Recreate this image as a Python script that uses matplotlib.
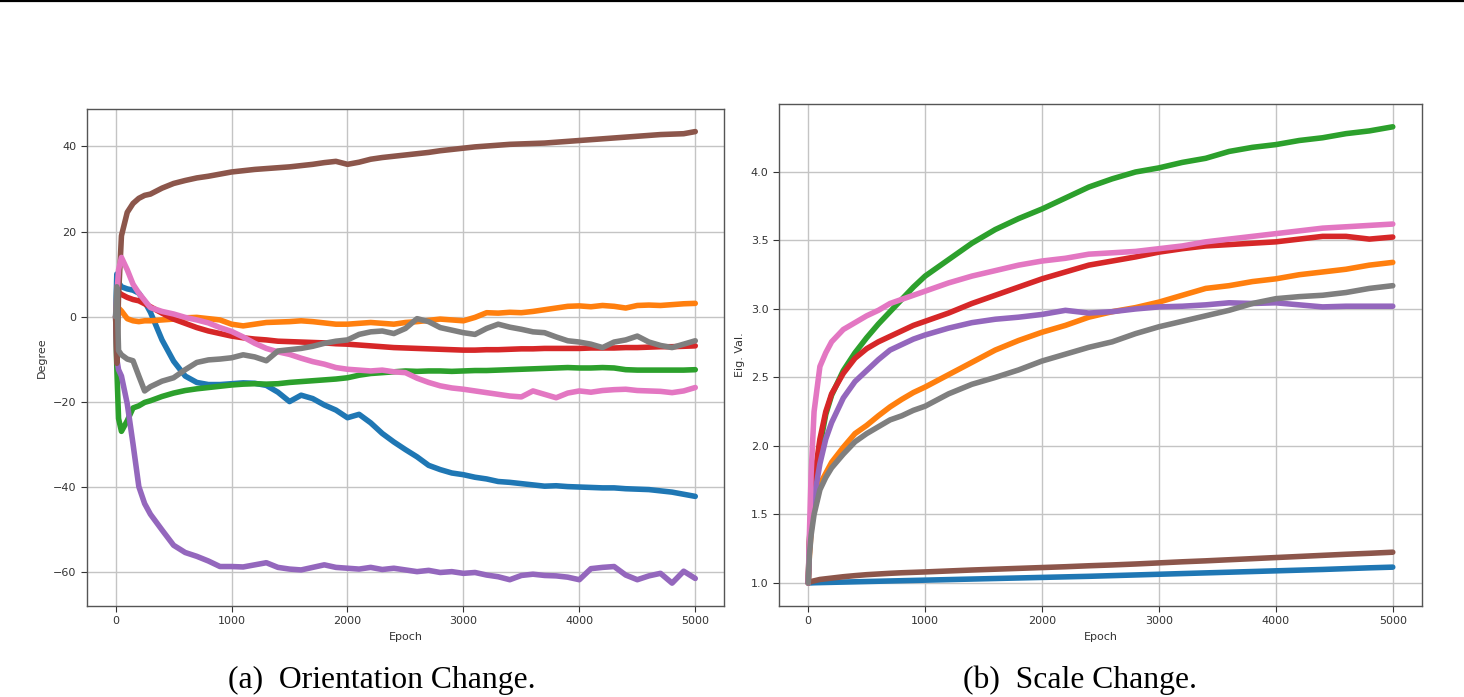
import matplotlib
matplotlib.use("Agg")
import matplotlib.pyplot as plt
from matplotlib.lines import Line2D

# (a) orientation change, degrees
epochs_a = [0, 10, 25, 50, 100, 150, 200, 250, 300] + list(range(400, 5001, 100))

blue_a = [0, 10, 8, 7, 6.5, 6.2, 5.5, 3.5, 1, -5.5, -10.5, -14, -15.5, -16, -16, -15.8,
          -15.6, -15.7, -16.2, -17.8, -20, -18.5, -19.3, -20.8, -22, -23.8, -23, -25, -27.5,
          -29.5, -31.3, -33, -35, -36, -36.8, -37.2, -37.8, -38.2, -38.8, -39, -39.3, -39.6,
          -39.9, -39.8, -40, -40.1, -40.2, -40.3, -40.3, -40.5, -40.6, -40.7, -41, -41.3,
          -41.8, -42.3]
orange_a = [0, -4, 2, 1.3, -0.5, -1, -1.2, -1, -1, -0.8, -0.6, -0.3, -0.2, -0.5, -0.8, -1.8,
            -2.2, -1.8, -1.4, -1.3, -1.2, -1.0, -1.2, -1.5, -1.8, -1.8, -1.6, -1.4, -1.6, -1.8,
            -1.4, -1.2, -0.9, -0.6, -0.8, -1.0, -0.2, 0.9, 0.8, 1.0, 0.9, 1.2, 1.6, 2.0, 2.4,
            2.5, 2.3, 2.6, 2.4, 2.0, 2.6, 2.7, 2.6, 2.8, 3.0, 3.1]
green_a = [0, -12, -24, -27, -24.5, -21.5, -21, -20.2, -19.8, -18.8, -18, -17.4, -17, -16.7,
           -16.4, -16.1, -15.9, -15.8, -15.9, -15.8, -15.5, -15.3, -15.1, -14.9, -14.7, -14.4,
           -13.8, -13.4, -13.2, -13.0, -12.8, -12.9, -12.8, -12.8, -12.9, -12.8, -12.7, -12.7,
           -12.6, -12.5, -12.4, -12.3, -12.2, -12.1, -12.0, -12.1, -12.1, -12.0, -12.1, -12.5,
           -12.6, -12.6, -12.6, -12.6, -12.6, -12.5]
red_a = [0, 3, 5.7, 5.2, 4.5, 4.0, 3.7, 3.0, 2.3, 0.8, -0.6, -1.6, -2.6, -3.4, -4.0, -4.6, -5.0,
         -5.3, -5.5, -5.8, -5.9, -6.0, -6.1, -6.2, -6.4, -6.5, -6.7, -6.9, -7.1, -7.3, -7.4,
         -7.5, -7.6, -7.7, -7.8, -7.9, -7.9, -7.8, -7.8, -7.7, -7.6, -7.6, -7.5, -7.5, -7.5,
         -7.5, -7.4, -7.4, -7.4, -7.3, -7.3, -7.2, -7.1, -7.1, -7.0, -6.9]
purple_a = [0, -10, -12.5, -14, -20.5, -30, -40, -44, -46.5, -50.2, -53.8, -55.5, -56.4, -57.5,
            -58.8, -58.8, -58.9, -58.4, -57.9, -59, -59.4, -59.6, -59.0, -58.4, -59.0, -59.2,
            -59.4, -59.0, -59.5, -59.2, -59.6, -60.0, -59.7, -60.2, -60.0, -60.4, -60.2, -60.8,
            -61.2, -61.9, -60.9, -60.6, -60.9, -61.0, -61.3, -61.9, -59.3, -59.0, -58.8, -60.8,
            -61.9, -61.0, -60.4, -62.7, -59.9, -61.6]
brown_a = [0, -11, 5, 19, 24.5, 26.6, 27.8, 28.5, 28.8, 30.2, 31.3, 32, 32.6, 33, 33.5, 34.0,
           34.3, 34.6, 34.8, 35.0, 35.2, 35.5, 35.8, 36.2, 36.5, 35.8, 36.3, 37.0, 37.4, 37.7,
           38.0, 38.3, 38.6, 39.0, 39.3, 39.6, 39.9, 40.1, 40.3, 40.5, 40.6, 40.7, 40.8, 41.0,
           41.2, 41.4, 41.6, 41.8, 42.0, 42.2, 42.4, 42.6, 42.8, 42.9, 43.0, 43.5]
pink_a = [0, 5, 11, 13.9, 11, 7.6, 5.5, 3.8, 2.1, 1.2, 0.6, -0.2, -0.8, -1.5, -2.6, -3.5, -4.8,
          -6.3, -7.5, -8.3, -8.9, -9.8, -10.6, -11.2, -12.0, -12.4, -12.6, -12.8, -12.6, -13.0,
          -13.2, -14.5, -15.5, -16.3, -16.8, -17.1, -17.5, -17.9, -18.3, -18.7, -18.9, -17.5,
          -18.3, -19.1, -18.0, -17.5, -17.8, -17.4, -17.2, -17.1, -17.4, -17.5, -17.6, -17.9,
          -17.5, -16.7]
gray_a = [0, 7, -8, -9, -10, -10.4, -14, -17.5, -16.5, -15.2, -14.4, -12.5, -10.8, -10.2, -10,
          -9.7, -9.0, -9.5, -10.4, -8.1, -7.8, -7.5, -7.0, -6.3, -5.8, -5.5, -4.2, -3.6, -3.4,
          -4.0, -2.8, -0.5, -1.2, -2.6, -3.2, -3.8, -4.2, -2.8, -1.8, -2.5, -3.0, -3.6, -3.8,
          -4.8, -5.7, -6.0, -6.5, -7.3, -6.0, -5.5, -4.6, -6.0, -6.8, -7.3, -6.5, -5.7]

# (b) scale change, eigenvalues
epochs_b = [0, 10, 25, 50, 100, 150, 200] + list(range(300, 1001, 100)) + list(range(1200, 5001, 200))

blue_b = [1.0, 1.0, 1.0, 1.001, 1.002, 1.003, 1.004, 1.006, 1.008, 1.01, 1.012, 1.014, 1.016,
          1.018, 1.02, 1.024, 1.028, 1.032, 1.036, 1.04, 1.044, 1.048, 1.053, 1.058, 1.063,
          1.068, 1.073, 1.078, 1.083, 1.088, 1.093, 1.098, 1.104, 1.11, 1.115]
orange_b = [1.0, 1.2, 1.38, 1.55, 1.72, 1.8, 1.88, 1.99, 2.09, 2.15, 2.22, 2.285, 2.34, 2.39,
            2.43, 2.52, 2.61, 2.70, 2.77, 2.83, 2.88, 2.94, 2.98, 3.01, 3.05, 3.10, 3.15, 3.17,
            3.20, 3.22, 3.25, 3.27, 3.29, 3.32, 3.34]
green_b = [1.0, 1.3, 1.55, 1.72, 2.0, 2.23, 2.37, 2.55, 2.68, 2.79, 2.89, 2.98, 3.07, 3.16,
           3.24, 3.36, 3.48, 3.58, 3.66, 3.73, 3.81, 3.89, 3.95, 4.0, 4.03, 4.07, 4.10, 4.15,
           4.18, 4.20, 4.23, 4.25, 4.28, 4.30, 4.33]
red_b = [1.0, 1.3, 1.5, 1.75, 2.05, 2.25, 2.38, 2.53, 2.64, 2.71, 2.76, 2.8, 2.84, 2.88, 2.91,
         2.97, 3.04, 3.10, 3.16, 3.22, 3.27, 3.32, 3.35, 3.38, 3.415, 3.44, 3.46, 3.47, 3.48,
         3.49, 3.51, 3.53, 3.53, 3.51, 3.525]
purple_b = [1.0, 1.25, 1.4, 1.62, 1.87, 2.05, 2.17, 2.35, 2.47, 2.55, 2.63, 2.70, 2.74, 2.78,
            2.81, 2.86, 2.90, 2.925, 2.94, 2.96, 2.99, 2.97, 2.98, 3.0, 3.015, 3.02, 3.03,
            3.045, 3.04, 3.045, 3.03, 3.015, 3.02, 3.02, 3.02]
brown_b = [1.0, 1.005, 1.01, 1.015, 1.025, 1.03, 1.035, 1.045, 1.053, 1.06, 1.065, 1.07, 1.074,
           1.077, 1.08, 1.087, 1.094, 1.1, 1.106, 1.112, 1.118, 1.125, 1.131, 1.138, 1.146,
           1.154, 1.161, 1.169, 1.177, 1.185, 1.193, 1.201, 1.209, 1.216, 1.224]
pink_b = [1.0, 1.35, 1.8, 2.25, 2.58, 2.68, 2.76, 2.85, 2.9, 2.95, 2.99, 3.04, 3.07, 3.10, 3.13,
          3.19, 3.24, 3.28, 3.32, 3.35, 3.37, 3.40, 3.41, 3.42, 3.44, 3.46, 3.49, 3.51, 3.53,
          3.55, 3.57, 3.59, 3.60, 3.61, 3.62]
gray_b = [1.0, 1.2, 1.35, 1.5, 1.68, 1.77, 1.84, 1.94, 2.03, 2.09, 2.14, 2.19, 2.22, 2.26, 2.29,
          2.38, 2.45, 2.50, 2.555, 2.62, 2.67, 2.72, 2.76, 2.82, 2.87, 2.91, 2.95, 2.99, 3.04,
          3.075, 3.09, 3.10, 3.12, 3.15, 3.17]

series_a = [blue_a, orange_a, green_a, red_a, purple_a, brown_a, pink_a, gray_a]
series_b = [blue_b, orange_b, green_b, red_b, purple_b, brown_b, pink_b, gray_b]

fig = plt.figure(figsize=(14.64, 6.97), dpi=100, facecolor='w')
ax1 = fig.add_axes([0.0592, 0.131, 0.4355, 0.7126])
ax2 = fig.add_axes([0.5321, 0.131, 0.4392, 0.7198])

for ax, ep, series in [(ax1, epochs_a, series_a), (ax2, epochs_b, series_b)]:
    for i, s in enumerate(series):
        ax.plot(ep, s, color='C%d' % i, linewidth=4.0, solid_capstyle='round',
                solid_joinstyle='round')
    ax.grid(True, color='#c4c4c4', linewidth=1.0)
    ax.set_axisbelow(True)
    ax.set_xticks([0, 1000, 2000, 3000, 4000, 5000])
    ax.tick_params(labelsize=8, colors='#333333', length=4, width=0.8)
    for sp in ax.spines.values():
        sp.set_color('#555555')
        sp.set_linewidth(1.0)
    ax.set_xlabel('Epoch', fontsize=8, color='#333333')

ax1.set_yticks([-60, -40, -20, 0, 20, 40])
ax1.set_ylabel('Degree', fontsize=8, color='#333333')
ax2.set_yticks([1.0, 1.5, 2.0, 2.5, 3.0, 3.5, 4.0])
ax2.set_ylabel('Eig. Val.', fontsize=8, color='#333333')

fig.text(0.261, 0.024, '(a)  Orientation Change.', ha='center', va='center',
         family='Liberation Serif', fontsize=22.8)
fig.text(0.738, 0.024, '(b)  Scale Change.', ha='center', va='center',
         family='Liberation Serif', fontsize=22.8)

fig.add_artist(Line2D([0, 1], [0.9985, 0.9985], transform=fig.transFigure,
                      color='k', linewidth=1.6))

fig.savefig('out.png', dpi=100)
